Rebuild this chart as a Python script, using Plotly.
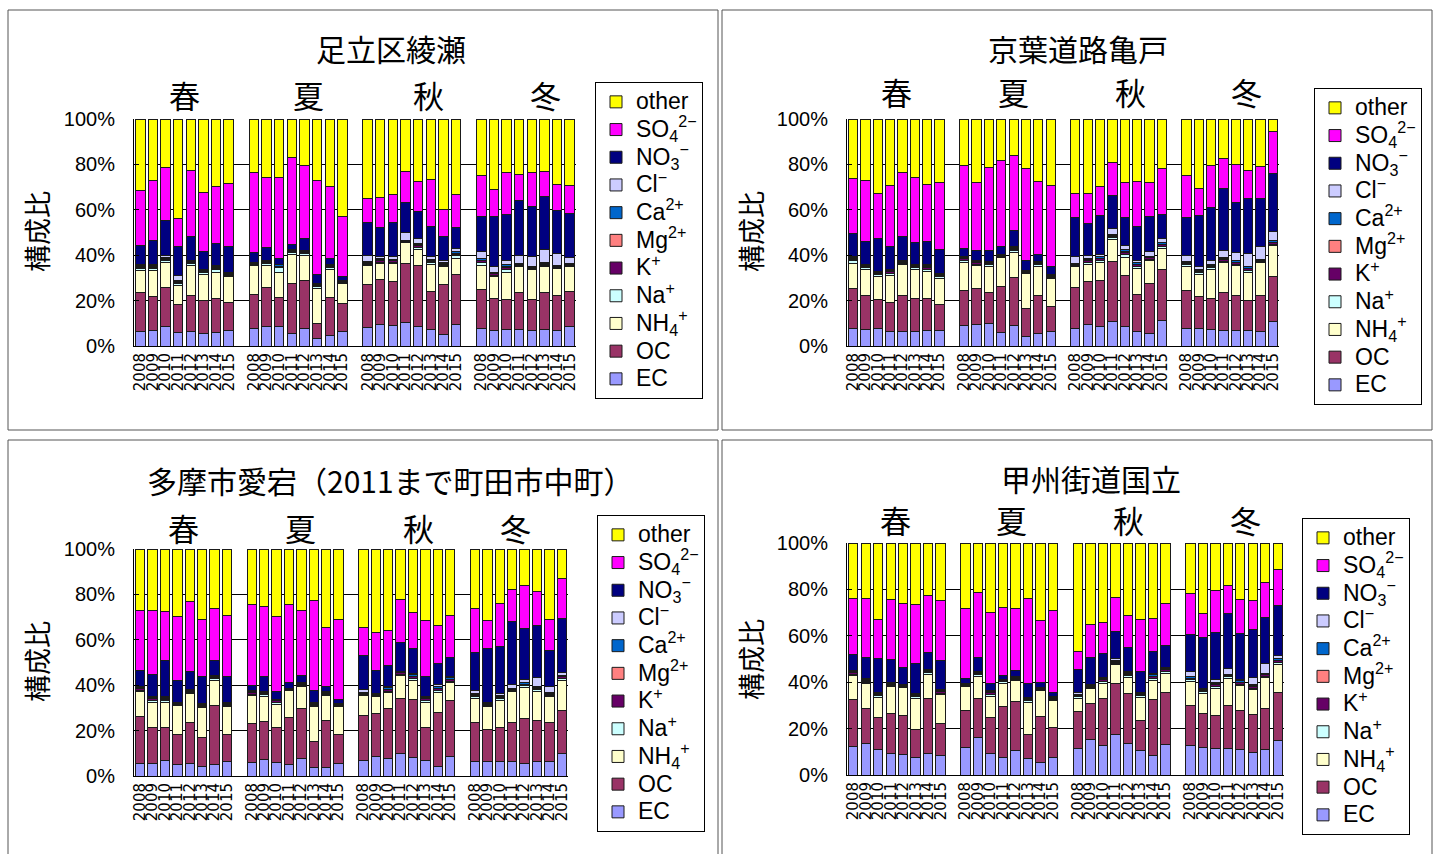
import plotly.graph_objects as go

# ---- categories -------------------------------------------------------------
years = ["2008", "2009", "2010", "2011", "2012", "2013", "2014", "2015"]
seasons = ["春", "夏", "秋", "冬"]
components = ["EC", "OC", "NH4+", "Na+", "K+", "Mg2+", "Ca2+", "Cl-", "NO3-", "SO42-", "other"]
legend_names = ["EC", "OC", "NH<sub>4</sub><sup>+</sup>", "Na<sup>+</sup>", "K<sup>+</sup>",
                "Mg<sup>2+</sup>", "Ca<sup>2+</sup>", "Cl<sup>−</sup>",
                "NO<sub>3</sub><sup>−</sup>", "SO<sub>4</sub><sup>2−</sup>", "other"]
colors = ["#9999FF", "#993366", "#FFFFCC", "#CCFFFF", "#660066", "#FF8080",
          "#0066CC", "#CCCCFF", "#000080", "#FF00FF", "#FFFF00"]

# ---- composition ratios (%), 32 bars each: spring, summer, autumn, winter x 2008-2015
# 足立区綾瀬
ayase_EC = [6.5, 6.9, 8.8, 5.9, 6.5, 5.4, 6.0, 6.8, 7.5, 8.7, 8.4, 5.4, 7.5, 3.4, 4.6, 6.3,
            8.1, 9.6, 9.0, 10.3, 8.4, 7.2, 5.1, 9.4, 7.6, 6.9, 7.2, 7.2, 6.8, 7.2, 6.9, 8.7]
ayase_OC = [16.9, 15.0, 16.9, 12.2, 15.9, 14.7, 14.9, 12.3, 15.3, 17.0, 12.9, 22.1, 21.5, 6.5, 16.7, 12.4,
            19.1, 19.7, 19.5, 26.0, 26.9, 16.6, 22.1, 22.2, 17.3, 14.0, 13.4, 16.2, 13.8, 16.2, 15.2, 15.4]
ayase_NH4 = [10.0, 11.5, 11.1, 8.7, 13.2, 11.5, 11.7, 11.3, 12.5, 9.9, 11.3, 12.9, 10.7, 15.4, 12.4, 8.7,
             8.1, 7.0, 7.8, 9.1, 7.2, 12.1, 7.7, 6.9, 10.7, 9.5, 12.0, 11.5, 13.1, 11.5, 11.9, 10.8]
ayase_Na = [0.7, 0.7, 0.8, 0.7, 0.6, 0.6, 0.9, 0.6, 0.5, 0.6, 1.8, 0.6, 1.0, 0.7, 0.8, 0.5,
            0.6, 0.7, 0.6, 0.4, 0.9, 0.7, 0.6, 1.2, 1.0, 0.8, 1.2, 0.5, 0.4, 0.6, 0.5, 0.5]
ayase_K = [0.7, 0.7, 0.7, 0.6, 0.5, 0.5, 0.8, 0.6, 0.4, 0.5, 0.6, 0.6, 0.6, 0.6, 0.6, 0.4,
           0.5, 0.7, 0.6, 0.4, 0.8, 0.7, 0.5, 0.8, 0.9, 0.7, 1.0, 0.4, 0.4, 0.5, 0.5, 0.4]
ayase_Mg = [0.2, 0.2, 0.2, 0.2, 0.2, 0.1, 0.2, 0.1, 0.1, 0.2, 0.2, 0.2, 0.2, 0.2, 0.2, 0.1,
            0.2, 0.2, 0.2, 0.1, 0.3, 0.2, 0.2, 0.3, 0.3, 0.2, 0.3, 0.1, 0.1, 0.2, 0.2, 0.1]
ayase_Ca = [0.5, 0.5, 0.6, 0.4, 0.4, 0.4, 0.5, 0.4, 0.2, 0.3, 0.5, 0.4, 0.4, 0.4, 0.4, 0.3,
            0.5, 0.6, 0.5, 0.3, 0.6, 0.6, 0.4, 0.7, 0.7, 0.5, 0.8, 0.4, 0.3, 0.4, 0.4, 0.4]
ayase_Cl = [0.5, 0.5, 0.6, 2.2, 0.5, 0.5, 0.6, 0.5, 0.3, 0.3, 0.3, 0.3, 0.3, 0.3, 0.3, 0.3,
            2.6, 0.8, 1.1, 3.3, 2.3, 1.2, 0.9, 1.4, 3.0, 2.3, 1.9, 3.7, 4.7, 5.9, 5.1, 2.7]
ayase_NO3 = [8.4, 10.6, 15.7, 12.8, 10.6, 7.9, 9.5, 11.4, 4.2, 5.9, 2.7, 2.4, 5.0, 3.8, 2.7, 1.7,
             14.6, 12.9, 15.1, 13.3, 11.7, 13.5, 10.6, 9.2, 15.7, 22.3, 20.3, 24.3, 22.0, 23.5, 19.2, 19.4]
ayase_SO4 = [24.0, 26.5, 23.3, 12.5, 29.1, 26.0, 25.0, 27.6, 35.5, 30.9, 35.6, 38.2, 32.5, 41.5, 31.7, 26.5,
             10.7, 13.2, 12.5, 13.6, 13.3, 20.6, 12.0, 14.7, 17.7, 11.9, 18.2, 11.4, 14.7, 10.8, 11.4, 12.3]
ayase_other = [31.6, 26.9, 21.3, 43.8, 22.5, 32.4, 29.9, 28.4, 23.5, 25.7, 25.7, 16.9, 20.3, 27.2, 29.6, 42.8,
               35.0, 34.6, 33.1, 23.2, 27.6, 26.6, 39.9, 33.2, 25.1, 30.9, 23.7, 24.3, 23.7, 23.2, 28.7, 29.3]

# 京葉道路亀戸
kameido_EC = [7.6, 7.2, 7.6, 6.6, 6.2, 6.3, 6.8, 6.8, 9.1, 9.6, 9.9, 5.9, 9.0, 4.4, 5.4, 6.6,
              7.6, 9.4, 8.7, 10.9, 8.4, 6.6, 5.7, 11.3, 7.6, 7.5, 7.4, 6.9, 6.8, 6.9, 6.6, 11.0]
kameido_OC = [17.7, 15.2, 12.8, 12.5, 16.2, 14.6, 14.1, 11.4, 15.5, 15.7, 13.5, 20.1, 21.1, 12.1, 17.0, 11.0,
              18.1, 19.1, 20.0, 26.5, 22.8, 16.0, 21.8, 22.4, 16.7, 14.1, 13.5, 16.6, 15.3, 13.0, 15.8, 19.4]
kameido_NH4 = [11.0, 11.3, 10.3, 12.1, 13.6, 12.8, 12.0, 11.5, 12.2, 10.0, 11.5, 13.0, 10.9, 15.4, 12.5, 12.1,
               9.2, 7.5, 8.1, 9.5, 7.8, 11.5, 10.0, 9.2, 10.6, 9.9, 12.8, 13.1, 13.3, 12.7, 14.2, 13.7]
kameido_Na = [1.2, 0.7, 0.7, 0.9, 0.4, 0.7, 1.0, 0.8, 1.0, 0.8, 0.9, 0.5, 1.1, 0.5, 0.8, 0.6,
              0.5, 0.9, 0.9, 0.8, 1.4, 0.8, 0.7, 1.0, 0.8, 0.7, 0.8, 0.8, 0.7, 0.8, 0.5, 0.8]
kameido_K = [0.8, 0.6, 0.6, 0.6, 0.4, 0.6, 0.8, 0.5, 0.6, 0.6, 0.5, 0.3, 0.6, 0.4, 0.5, 0.5,
             0.4, 0.7, 0.7, 0.7, 0.9, 0.8, 0.6, 0.7, 0.7, 0.7, 0.7, 0.7, 0.6, 0.7, 0.5, 0.7]
kameido_Mg = [0.2, 0.2, 0.1, 0.2, 0.1, 0.2, 0.2, 0.1, 0.2, 0.1, 0.1, 0.1, 0.2, 0.1, 0.2, 0.1,
              0.1, 0.3, 0.3, 0.3, 0.4, 0.3, 0.2, 0.2, 0.2, 0.2, 0.2, 0.3, 0.2, 0.2, 0.1, 0.2]
kameido_Ca = [0.6, 0.4, 0.4, 0.4, 0.3, 0.4, 0.5, 0.4, 0.4, 0.4, 0.4, 0.3, 0.5, 0.3, 0.4, 0.4,
              0.4, 0.6, 0.6, 0.6, 0.8, 0.6, 0.6, 0.6, 0.5, 0.6, 0.6, 0.6, 0.6, 0.6, 0.4, 0.5]
kameido_Cl = [0.5, 0.4, 0.4, 0.4, 0.3, 0.4, 0.5, 0.4, 0.3, 0.3, 0.3, 0.2, 0.3, 0.2, 0.3, 0.3,
              3.0, 1.5, 1.0, 2.5, 1.9, 0.9, 1.9, 2.0, 2.9, 1.4, 1.8, 2.9, 3.5, 5.8, 5.6, 4.0]
kameido_NO3 = [10.0, 10.2, 14.5, 10.0, 10.9, 9.4, 10.3, 10.6, 3.6, 4.7, 4.8, 3.3, 7.3, 4.1, 3.3, 3.3,
               17.3, 14.0, 17.3, 14.7, 12.2, 15.0, 15.7, 10.7, 16.6, 22.3, 23.1, 27.5, 22.2, 24.3, 21.3, 25.7]
kameido_SO4 = [24.2, 26.6, 19.8, 27.2, 28.1, 28.9, 25.1, 29.4, 36.4, 29.7, 36.6, 38.2, 33.1, 40.7, 32.0, 35.8,
               10.6, 13.2, 12.8, 14.4, 15.3, 19.9, 14.9, 20.1, 18.3, 12.0, 18.4, 13.2, 16.9, 12.2, 14.0, 18.4]
kameido_other = [26.2, 27.2, 32.8, 29.1, 23.5, 25.7, 28.7, 28.1, 20.7, 28.1, 21.5, 18.1, 15.9, 21.8, 27.6, 29.3,
                 32.8, 32.8, 29.6, 19.1, 28.1, 27.6, 27.9, 21.8, 25.1, 30.6, 20.7, 17.4, 19.9, 22.8, 21.0, 5.6]

# 多摩市愛宕（2011まで町田市中町）
tama_EC = [5.4, 5.4, 6.8, 5.0, 5.7, 4.3, 5.0, 6.5, 5.9, 7.4, 5.9, 5.0, 7.9, 3.7, 3.7, 5.4,
           6.9, 8.4, 7.6, 9.9, 8.1, 6.9, 4.4, 8.8, 6.5, 6.2, 6.5, 6.2, 5.7, 6.6, 6.6, 9.7]
tama_OC = [20.6, 15.9, 14.5, 13.2, 17.7, 12.6, 26.2, 11.9, 17.2, 16.7, 15.4, 20.7, 21.8, 11.3, 20.9, 12.8,
           19.9, 19.1, 22.1, 24.2, 25.6, 14.3, 23.5, 24.6, 16.9, 14.4, 14.8, 17.3, 19.6, 17.7, 16.8, 19.0]
tama_NH4 = [11.1, 11.3, 11.3, 12.7, 12.9, 13.2, 11.0, 12.0, 12.2, 10.8, 10.3, 11.8, 9.6, 15.4, 11.0, 12.2,
            8.8, 7.4, 6.9, 10.3, 8.5, 11.4, 8.9, 7.6, 10.7, 9.8, 11.8, 13.6, 13.7, 12.8, 11.7, 13.5]
tama_Na = [0.7, 0.8, 0.7, 0.4, 0.6, 0.5, 0.7, 0.7, 0.8, 0.8, 1.0, 0.3, 0.7, 0.6, 0.5, 0.5,
           0.4, 0.3, 0.8, 0.5, 0.9, 0.7, 0.8, 0.8, 0.8, 0.5, 0.9, 0.5, 0.7, 0.8, 0.5, 0.8]
tama_K = [0.6, 0.6, 0.6, 0.4, 0.5, 0.5, 0.6, 0.6, 0.6, 0.6, 0.5, 0.2, 0.4, 0.6, 0.4, 0.4,
          0.4, 0.3, 0.7, 0.5, 0.7, 0.7, 0.8, 0.7, 0.7, 0.6, 0.7, 0.4, 0.6, 0.7, 0.5, 0.7]
tama_Mg = [0.1, 0.2, 0.2, 0.1, 0.1, 0.1, 0.1, 0.1, 0.1, 0.1, 0.1, 0.1, 0.1, 0.1, 0.1, 0.1,
           0.1, 0.1, 0.2, 0.1, 0.2, 0.1, 0.3, 0.2, 0.2, 0.1, 0.3, 0.1, 0.2, 0.2, 0.1, 0.2]
tama_Ca = [0.4, 0.4, 0.4, 0.3, 0.3, 0.4, 0.4, 0.4, 0.4, 0.4, 0.3, 0.2, 0.3, 0.4, 0.3, 0.3,
           0.3, 0.2, 0.5, 0.3, 0.6, 0.4, 0.6, 0.5, 0.5, 0.4, 0.6, 0.4, 0.5, 0.5, 0.4, 0.5]
tama_Cl = [0.4, 0.5, 0.4, 0.3, 0.3, 0.3, 0.4, 0.4, 0.3, 0.3, 0.2, 0.2, 0.2, 0.3, 0.2, 0.2,
           1.3, 0.5, 0.8, 0.4, 0.5, 0.4, 1.1, 0.5, 1.2, 0.4, 0.7, 1.9, 1.5, 3.9, 2.7, 1.0]
tama_NO3 = [7.0, 9.6, 15.8, 9.5, 7.8, 11.8, 6.3, 11.1, 2.2, 6.6, 3.4, 2.5, 3.4, 5.4, 2.2, 1.8,
            15.1, 10.3, 9.1, 12.6, 11.1, 9.1, 9.2, 8.5, 16.8, 23.8, 20.9, 27.8, 22.5, 23.0, 15.8, 24.0]
tama_SO4 = [26.8, 28.1, 21.9, 28.5, 30.9, 25.3, 23.1, 26.9, 35.9, 30.9, 33.0, 34.6, 28.4, 39.4, 26.1, 35.3,
            12.2, 16.5, 15.6, 19.0, 15.7, 24.7, 16.9, 18.7, 19.5, 12.5, 18.8, 14.0, 18.8, 15.0, 13.9, 17.7]
tama_other = [26.9, 27.2, 27.4, 29.6, 23.2, 31.0, 26.2, 29.4, 24.4, 25.4, 29.9, 24.4, 27.2, 22.8, 34.6, 31.0,
              34.6, 36.9, 35.7, 22.2, 28.1, 31.3, 33.5, 29.1, 26.2, 31.3, 24.0, 17.8, 16.2, 18.8, 31.0, 12.9]

# 甲州街道国立
kunitachi_EC = [12.2, 13.7, 10.8, 9.1, 8.8, 7.5, 9.2, 8.3, 11.9, 16.3, 9.4, 7.5, 10.4, 7.2, 5.5, 7.6,
                11.5, 15.1, 12.7, 17.3, 13.4, 10.6, 8.6, 13.2, 12.7, 11.8, 11.5, 11.5, 11.2, 9.6, 11.2, 14.8]
kunitachi_OC = [20.5, 14.8, 14.1, 17.2, 16.8, 11.9, 23.6, 14.0, 15.7, 16.5, 15.3, 22.0, 21.3, 10.4, 19.7, 12.8,
                15.8, 15.8, 20.4, 22.0, 21.6, 12.7, 23.8, 22.3, 17.2, 14.5, 14.1, 18.4, 16.6, 16.6, 17.6, 20.7]
kunitachi_NH4 = [10.0, 10.8, 8.6, 11.8, 12.1, 13.7, 10.7, 12.2, 10.5, 9.6, 9.1, 10.1, 9.0, 13.8, 11.1, 11.7,
                 5.8, 6.5, 6.5, 8.2, 7.0, 10.2, 8.2, 8.4, 10.4, 9.0, 11.5, 11.8, 10.8, 10.5, 13.2, 12.0]
kunitachi_Na = [0.7, 0.7, 0.7, 0.6, 0.3, 0.7, 0.6, 0.7, 0.5, 0.8, 1.0, 0.5, 0.6, 0.6, 0.5, 0.6,
                0.6, 0.5, 0.8, 0.6, 0.8, 0.7, 0.9, 0.8, 0.7, 0.5, 1.0, 0.6, 0.5, 0.8, 0.6, 0.9]
kunitachi_K = [0.6, 0.5, 0.6, 0.5, 0.3, 0.6, 0.4, 0.6, 0.4, 0.6, 0.6, 0.3, 0.4, 0.6, 0.3, 0.4,
               0.5, 0.4, 0.6, 0.5, 0.7, 0.6, 0.8, 0.6, 0.6, 0.5, 0.9, 0.5, 0.6, 0.7, 0.6, 0.8]
kunitachi_Mg = [0.1, 0.1, 0.1, 0.1, 0.1, 0.1, 0.1, 0.1, 0.1, 0.1, 0.2, 0.1, 0.1, 0.1, 0.1, 0.1,
                0.2, 0.1, 0.2, 0.2, 0.2, 0.1, 0.3, 0.2, 0.2, 0.1, 0.3, 0.2, 0.2, 0.3, 0.2, 0.2]
kunitachi_Ca = [0.4, 0.4, 0.4, 0.3, 0.2, 0.4, 0.3, 0.4, 0.3, 0.4, 0.4, 0.3, 0.4, 0.4, 0.3, 0.4,
                0.4, 0.3, 0.4, 0.4, 0.4, 0.4, 0.6, 0.4, 0.6, 0.3, 0.7, 0.5, 0.8, 0.6, 0.5, 0.7]
kunitachi_Cl = [0.4, 0.4, 0.4, 0.4, 0.2, 0.4, 0.4, 0.4, 0.2, 0.3, 0.3, 0.2, 0.2, 0.3, 0.2, 0.2,
                0.9, 0.4, 0.4, 0.9, 0.5, 0.4, 0.7, 0.4, 2.2, 0.4, 1.0, 2.3, 0.4, 3.1, 4.3, 1.4]
kunitachi_NO3 = [6.9, 9.2, 14.7, 9.9, 7.7, 12.6, 7.6, 12.5, 2.1, 6.2, 3.3, 1.7, 2.8, 6.2, 2.2, 1.9,
                 9.6, 11.5, 10.2, 11.8, 10.4, 8.9, 9.3, 9.5, 15.8, 22.3, 20.4, 23.7, 19.9, 20.4, 19.9, 21.6]
kunitachi_SO4 = [24.2, 25.4, 16.5, 25.9, 27.6, 25.8, 24.4, 25.9, 30.0, 28.0, 30.5, 29.7, 26.7, 36.4, 26.9, 35.1,
                 7.9, 14.4, 13.7, 14.6, 13.6, 22.3, 14.4, 18.0, 17.7, 10.4, 18.2, 12.2, 14.6, 12.7, 14.9, 15.4]
kunitachi_other = [24.0, 24.0, 33.1, 24.2, 25.9, 26.3, 22.7, 24.9, 28.3, 21.2, 29.9, 27.6, 28.1, 24.0, 33.2, 29.2,
                   46.8, 35.0, 34.1, 23.5, 31.4, 33.1, 32.4, 26.2, 21.9, 30.2, 20.4, 18.3, 24.5, 24.7, 17.0, 11.5]

sites = [
    ("足立区綾瀬", [ayase_EC, ayase_OC, ayase_NH4, ayase_Na, ayase_K, ayase_Mg, ayase_Ca,
                   ayase_Cl, ayase_NO3, ayase_SO4, ayase_other]),
    ("京葉道路亀戸", [kameido_EC, kameido_OC, kameido_NH4, kameido_Na, kameido_K, kameido_Mg, kameido_Ca,
                     kameido_Cl, kameido_NO3, kameido_SO4, kameido_other]),
    ("多摩市愛宕（2011まで町田市中町）", [tama_EC, tama_OC, tama_NH4, tama_Na, tama_K, tama_Mg, tama_Ca,
                                        tama_Cl, tama_NO3, tama_SO4, tama_other]),
    ("甲州街道国立", [kunitachi_EC, kunitachi_OC, kunitachi_NH4, kunitachi_Na, kunitachi_K, kunitachi_Mg,
                     kunitachi_Ca, kunitachi_Cl, kunitachi_NO3, kunitachi_SO4, kunitachi_other]),
]

# ---- page geometry (pixels of a 1440 x 854 page) ----------------------------
W, H = 1440, 854


def px(x):
    return x / W


def py(y):
    return 1 - y / H


# plot area (left, top, right, bottom), panel frame, legend corner, title/season/ylabel spots
panels = [
    dict(plot=(134, 119, 576, 346), frame=(8, 10, 718, 430), legend=(595, 82),
         title=(391, 48), season_x=[184, 308, 428, 545], season_y=94, ylab=(36, 232)),
    dict(plot=(847, 119, 1279, 346), frame=(722, 10, 1432, 430), legend=(1314, 88),
         title=(1078, 48), season_x=[896, 1013, 1130, 1246], season_y=91, ylab=(750, 232)),
    dict(plot=(134, 549, 568, 776), frame=(8, 440, 718, 860), legend=(597, 515),
         title=(391, 480), season_x=[183, 300, 418, 515], season_y=527, ylab=(36, 662)),
    dict(plot=(847, 543, 1284, 775), frame=(722, 440, 1432, 860), legend=(1302, 518),
         title=(1091, 478), season_x=[895, 1012, 1128, 1245], season_y=519, ylab=(750, 660)),
]

# bar slots: 8 years per season with an empty slot between seasons
xpos = [s * 9 + i for s in range(4) for i in range(8)]
ticklabels = years * 4

JP = "Noto Sans CJK JP"
LAT = "Liberation Sans"

fig = go.Figure()
layout_axes = {}
annotations = []
shapes = []

for k, ((title, series), pan) in enumerate(zip(sites, panels)):
    n = k + 1
    xa = "x" if n == 1 else f"x{n}"
    ya = "y" if n == 1 else f"y{n}"
    lg = "legend" if n == 1 else f"legend{n}"
    for name, label, col, vals in zip(components, legend_names, colors, series):
        fig.add_trace(go.Bar(
            x=xpos, y=vals, name='<span style="font-size:23px">' + label + "</span>",
            xaxis=xa, yaxis=ya, legend=lg,
            marker=dict(color=col, line=dict(color="#1a1a1a", width=1)),
            hovertemplate=name + ": %{y:.1f}%<extra></extra>",
        ))
    l, t, r, b = pan["plot"]
    xkey = "xaxis" if n == 1 else f"xaxis{n}"
    ykey = "yaxis" if n == 1 else f"yaxis{n}"
    layout_axes[xkey] = dict(
        domain=[px(l), px(r)], anchor=ya, range=[-0.5, 34.5],
        tickmode="array", tickvals=xpos, ticktext=ticklabels, tickangle=-90,
        tickfont=dict(family="DejaVu Sans", size=15, color="#000"),
        showline=True, linecolor="#000", linewidth=1, showgrid=False, zeroline=False,
        ticks="", fixedrange=True, automargin=False,
    )
    layout_axes[ykey] = dict(
        domain=[py(b), py(t)], anchor=xa, range=[0, 100],
        tickmode="array", tickvals=[0, 20, 40, 60, 80, 100],
        ticktext=["0%", "20%", "40%", "60%", "80%", "100%"],
        tickfont=dict(family=LAT, size=20, color="#000"),
        showline=True, linecolor="#000", linewidth=1,
        showgrid=True, gridcolor="#000", gridwidth=1, zeroline=False,
        ticks="inside", ticklen=5, tickcolor="#000", ticklabelstandoff=14,
        fixedrange=True, automargin=False,
    )
    lx, ly = pan["legend"]
    layout_axes[lg] = dict(
        x=px(lx), y=py(ly), xanchor="left", yanchor="top",
        traceorder="reversed", bgcolor="#fff", bordercolor="#000", borderwidth=1,
        font=dict(family=LAT, size=19, color="#000"),
    )
    fl, ft, fr, fb = pan["frame"]
    shapes.append(dict(type="rect", xref="paper", yref="paper",
                       x0=px(fl), x1=px(fr), y0=py(fb), y1=py(ft),
                       line=dict(color="#555", width=1), layer="below"))
    tx, ty = pan["title"]
    annotations.append(dict(text=title, x=px(tx), y=py(ty), xref="paper", yref="paper",
                            showarrow=False, xanchor="center", yanchor="middle",
                            font=dict(family=JP, size=30, color="#000")))
    for s, sx in zip(seasons, pan["season_x"]):
        annotations.append(dict(text=s, x=px(sx), y=py(pan["season_y"]), xref="paper", yref="paper",
                                showarrow=False, xanchor="center", yanchor="middle",
                                font=dict(family=JP, size=31, color="#000")))
    yx, yy = pan["ylab"]
    annotations.append(dict(text="構成比", x=px(yx), y=py(yy), xref="paper", yref="paper",
                            showarrow=False, xanchor="center", yanchor="middle", textangle=-90,
                            font=dict(family=JP, size=27, color="#000")))

fig.update_layout(
    width=W, height=H, margin=dict(l=0, r=0, t=0, b=0, pad=0, autoexpand=False),
    paper_bgcolor="#fff", plot_bgcolor="#fff",
    barmode="stack", barnorm="percent", bargap=0.25,
    annotations=annotations, shapes=shapes, showlegend=True,
    **layout_axes,
)

fig.write_html("out.html")
